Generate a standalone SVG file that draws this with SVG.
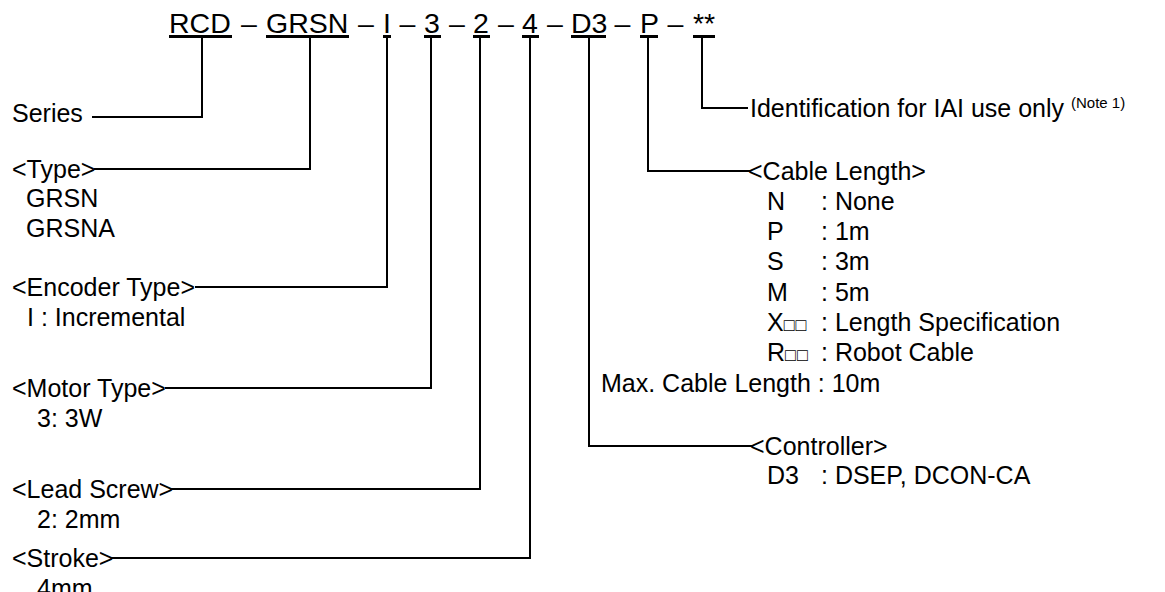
<svg xmlns="http://www.w3.org/2000/svg" width="1165" height="592" viewBox="0 0 1165 592">
<style>
text{font-family:"Liberation Sans",Arial,sans-serif;fill:#000}
.code{font-size:28.5px}
.lbl{font-size:25px}
.sm{font-size:18px;letter-spacing:1px}
.note{font-size:15px}
.ul{stroke:#000;stroke-width:3;fill:none}
.conn path{stroke:#000;stroke-width:2;fill:none}
</style>
<rect width="1165" height="592" fill="#fff"/>
<g id="code">
<text class="code" x="169" y="32.5">RCD</text>
<text class="code" x="249" y="32.5" text-anchor="middle">–</text>
<text class="code" x="266" y="32.5">GRSN</text>
<text class="code" x="366" y="32.5" text-anchor="middle">–</text>
<text class="code" x="383" y="32.5">I</text>
<text class="code" x="407.5" y="32.5" text-anchor="middle">–</text>
<text class="code" x="424" y="32.5">3</text>
<text class="code" x="457" y="32.5" text-anchor="middle">–</text>
<text class="code" x="473" y="32.5">2</text>
<text class="code" x="506" y="32.5" text-anchor="middle">–</text>
<text class="code" x="522" y="32.5">4</text>
<text class="code" x="555" y="32.5" text-anchor="middle">–</text>
<text class="code" x="571" y="32.5">D3</text>
<text class="code" x="622.5" y="32.5" text-anchor="middle">–</text>
<text class="code" x="640" y="32.5">P</text>
<text class="code" x="675.5" y="32.5" text-anchor="middle">–</text>
<text class="code" x="693" y="32.5">**</text>
<path class="ul" d="M169,36.5H232M266,36.5H349M383,36.5H391M424,36.5H441M473,36.5H490M522,36.5H539M571,36.5H606M640,36.5H658M693,36.5H715"/>
</g>
<g class="conn" id="connectors">
<path d="M202,37V117H92"/>
<path d="M310,37V169H94"/>
<path d="M387,37V287H195"/>
<path d="M431,37V388H165"/>
<path d="M480,37V489H171"/>
<path d="M530,37V558H111"/>
<path d="M589,37V446H752"/>
<path d="M648,37V171H750"/>
<path d="M702,37V108H748"/>
</g>
<g id="series"><text class="lbl" x="12" y="122">Series</text></g>
<g id="type">
<text class="lbl" x="12" y="177.5">&lt;Type&gt;</text>
<text class="lbl" x="26" y="207">GRSN</text>
<text class="lbl" x="26" y="237">GRSNA</text>
</g>
<g id="encoder">
<text class="lbl" x="12" y="295.5">&lt;Encoder Type&gt;</text>
<text class="lbl" x="27" y="325.5">I : Incremental</text>
</g>
<g id="motor">
<text class="lbl" x="12" y="396.5">&lt;Motor Type&gt;</text>
<text class="lbl" x="37" y="426.5">3: 3W</text>
</g>
<g id="lead">
<text class="lbl" x="12" y="497.5">&lt;Lead Screw&gt;</text>
<text class="lbl" x="37" y="527.5">2: 2mm</text>
</g>
<g id="stroke">
<text class="lbl" x="12" y="566.5">&lt;Stroke&gt;</text>
<text class="lbl" x="37" y="596.5">4mm</text>
</g>
<g id="ident">
<text class="lbl" x="750" y="116.5">Identification for IAI use only <tspan class="note" dy="-9">(Note 1)</tspan></text>
</g>
<g id="cable">
<text class="lbl" x="748" y="179.5">&lt;Cable Length&gt;</text>
<text class="lbl" x="767" y="209.8">N</text><text class="lbl" x="821" y="209.8">: None</text>
<text class="lbl" x="767" y="240.1">P</text><text class="lbl" x="821" y="240.1">: 1m</text>
<text class="lbl" x="767" y="270.4">S</text><text class="lbl" x="821" y="270.4">: 3m</text>
<text class="lbl" x="767" y="300.7">M</text><text class="lbl" x="821" y="300.7">: 5m</text>
<text class="lbl" x="767" y="331">X<tspan class="sm">□□</tspan></text><text class="lbl" x="821" y="331">: Length Specification</text>
<text class="lbl" x="767" y="361.3">R<tspan class="sm">□□</tspan></text><text class="lbl" x="821" y="361.3">: Robot Cable</text>
<text class="lbl" x="601" y="391.6">Max. Cable Length : 10m</text>
</g>
<g id="controller">
<text class="lbl" x="750" y="454.5">&lt;Controller&gt;</text>
<text class="lbl" x="767" y="484">D3</text><text class="lbl" x="821" y="484">: DSEP, DCON-CA</text>
</g>
</svg>
